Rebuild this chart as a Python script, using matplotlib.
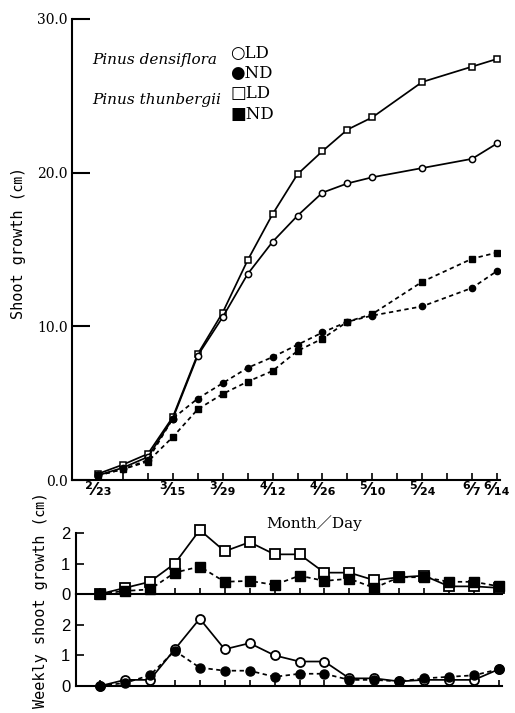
import matplotlib
matplotlib.use("Agg")
import matplotlib.pyplot as plt
import numpy as np

# ---- data ----
weeks = list(range(17))  # 2/23 ... 6/14, weekly
week_dates = ["2/23", "3/1", "3/8", "3/15", "3/22", "3/29", "4/5", "4/12", "4/19",
              "4/26", "5/3", "5/10", "5/17", "5/24", "5/31", "6/7", "6/14"]
tick_weeks = [0, 3, 5, 7, 9, 11, 13, 15, 16]
tick_months = ["2", "3", "3", "4", "4", "5", "5", "6", "6"]
tick_days = ["23", "15", "29", "12", "26", "10", "24", "7", "14"]

# cumulative shoot growth (cm), measured on these weeks
cum_weeks = [0, 1, 2, 3, 4, 5, 6, 7, 8, 9, 10, 11, 13, 15, 16]
dens_LD = [0.3, 0.8, 1.5, 4.0, 8.1, 10.6, 13.4, 15.5, 17.2, 18.7, 19.3, 19.7, 20.3, 20.9, 21.9]
dens_ND = [0.3, 0.7, 1.3, 4.0, 5.3, 6.3, 7.3, 8.0, 8.8, 9.6, 10.3, 10.7, 11.3, 12.5, 13.6]
thun_LD = [0.4, 1.0, 1.7, 4.1, 8.2, 10.9, 14.3, 17.3, 19.9, 21.4, 22.8, 23.6, 25.9, 26.9, 27.4]
thun_ND = [0.3, 0.7, 1.2, 2.8, 4.6, 5.6, 6.4, 7.1, 8.4, 9.2, 10.3, 10.8, 12.9, 14.4, 14.8]

# weekly shoot growth (cm)
wk_thun_LD = [0, 0.2, 0.4, 1.0, 2.1, 1.4, 1.7, 1.3, 1.3, 0.7, 0.7, 0.45, 0.55, 0.6, 0.25, 0.25, 0.2]
wk_thun_ND = [0, 0.1, 0.15, 0.7, 0.9, 0.4, 0.43, 0.3, 0.6, 0.43, 0.5, 0.2, 0.55, 0.55, 0.4, 0.4, 0.25]
wk_dens_LD = [0, 0.2, 0.2, 1.2, 2.2, 1.2, 1.4, 1.0, 0.8, 0.8, 0.25, 0.25, 0.15, 0.2, 0.2, 0.2, 0.55]
wk_dens_ND = [0, 0.1, 0.35, 1.15, 0.6, 0.5, 0.5, 0.3, 0.4, 0.4, 0.2, 0.2, 0.15, 0.25, 0.3, 0.35, 0.55]

SUP = str.maketrans("0123456789", "⁰¹²³⁴⁵⁶⁷⁸⁹")
SUB = str.maketrans("0123456789", "₀₁₂₃₄₅₆₇₈₉")
tick_labels = [m.translate(SUP) + "⁄" + d.translate(SUB) for m, d in zip(tick_months, tick_days)]

W, H = 515, 713
fig = plt.figure(figsize=(W / 100, H / 100), dpi=100)

def fx(px):
    return px / W

def fy(py):
    return 1 - py / H

lw = 1.25
dash = (0, (2.5, 2))

# ---- main panel ----
ax = fig.add_axes([fx(72), fy(480), fx(500) - fx(72), fy(19) - fy(480)])
ppw = (497 - 98) / 16
ax.set_xlim(-(98 - 72) / ppw, 16 + (500 - 497) / ppw)
ax.set_ylim(0, 30)
for s in ['top', 'right']:
    ax.spines[s].set_visible(False)
for s in ['left', 'bottom']:
    ax.spines[s].set_linewidth(1.5)

ms = 4.5
ax.plot(cum_weeks, thun_LD, '-', color='black', lw=lw, marker='s', ms=ms,
        mfc='white', mec='black', mew=1.1, zorder=3)
ax.plot(cum_weeks, dens_LD, '-', color='black', lw=lw, marker='o', ms=ms,
        mfc='white', mec='black', mew=1.1, zorder=3)
ax.plot(cum_weeks, thun_ND, linestyle=dash, color='black', lw=lw, marker='s', ms=ms,
        mfc='black', mec='black', zorder=3)
ax.plot(cum_weeks, dens_ND, linestyle=dash, color='black', lw=lw, marker='o', ms=ms,
        mfc='black', mec='black', zorder=3)

ax.set_yticks([0, 10, 20, 30])
ax.set_yticklabels(["0.0", "10.0", "20.0", "30.0"], family='DejaVu Serif', fontsize=10)
ax.tick_params(axis='y', direction='in', length=13, width=1.5, pad=3)
ax.set_xticks(weeks, minor=True)
ax.set_xticks(tick_weeks)
ax.set_xticklabels(tick_labels, family='DejaVu Sans', fontweight='bold', fontsize=13)
ax.tick_params(axis='x', which='both', direction='in', length=5, width=1.2, pad=1)

ax.set_ylabel("Shoot growth (㎝)", family=['DejaVu Sans Mono', 'Noto Sans CJK JP'],
              fontsize=11)
ax.yaxis.set_label_coords(-(72 - 26) / (500 - 72), (480 - 243) / (480 - 19))

fig.text(fx(314), fy(523), "Month／Day", family=['DejaVu Serif', 'Noto Sans CJK JP'],
         fontsize=11, ha='center', va='center')

# legend
fig.text(fx(92), fy(60), "Pinus densiflora", family='DejaVu Serif', style='italic',
         fontsize=11, ha='left', va='center')
fig.text(fx(92), fy(100), "Pinus thunbergii", family='DejaVu Serif', style='italic',
         fontsize=11, ha='left', va='center')
for sym, lab, yy in [("○", "LD", 53), ("●", "ND", 73), ("□", "LD", 94), ("■", "ND", 114)]:
    fig.text(fx(230), fy(yy), sym + lab, family=['DejaVu Serif', 'DejaVu Sans'],
             fontsize=12, ha='left', va='center')

# ---- weekly panels ----
wl, wr = 76, 502
ppw2 = (499 - 100) / 16
wxlim = (-(100 - wl) / ppw2, 16 + (wr - 499) / ppw2)

ax1 = fig.add_axes([fx(wl), fy(594), fx(wr) - fx(wl), fy(533) - fy(594)])
ax2 = fig.add_axes([fx(wl), fy(686), fx(wr) - fx(wl), fy(594) - fy(686)])
ax1.set_ylim(0, 2)
ax2.set_ylim(0, 92 / 30.6)

ms2 = 6.5
ax1.plot(weeks, wk_thun_LD, '-', color='black', lw=lw, marker='s', ms=ms2,
         mfc='white', mec='black', mew=1.3, zorder=3, clip_on=False)
ax1.plot(weeks, wk_thun_ND, linestyle=dash, color='black', lw=lw, marker='s', ms=ms2,
         mfc='black', mec='black', zorder=3, clip_on=False)
ax2.plot(weeks, wk_dens_LD, '-', color='black', lw=lw, marker='o', ms=ms2,
         mfc='white', mec='black', mew=1.3, zorder=3, clip_on=False)
ax2.plot(weeks, wk_dens_ND, linestyle=dash, color='black', lw=lw, marker='o', ms=ms2,
         mfc='black', mec='black', zorder=3, clip_on=False)

for a in (ax1, ax2):
    a.set_xlim(*wxlim)
    for s in ['top', 'right']:
        a.spines[s].set_visible(False)
    for s in ['left', 'bottom']:
        a.spines[s].set_linewidth(1.5)
    a.set_yticks([0, 1, 2])
    a.set_yticklabels(["0", "1", "2"], family='Liberation Sans', fontsize=12)
    a.tick_params(axis='y', direction='in', length=6, width=1.2, pad=4)
    a.set_xticks(weeks)
    a.set_xticklabels([])
    a.tick_params(axis='x', direction='in', length=4, width=1.2)
    a.patch.set_alpha(0)

ax2.set_ylabel("Weekly shoot growth (㎝)", family=['DejaVu Sans Mono', 'Noto Sans CJK JP'],
               fontsize=11)
ax2.yaxis.set_label_coords(-(wl - 48) / (wr - wl), (686 - 600) / 92)

fig.savefig("out.png", dpi=100)
